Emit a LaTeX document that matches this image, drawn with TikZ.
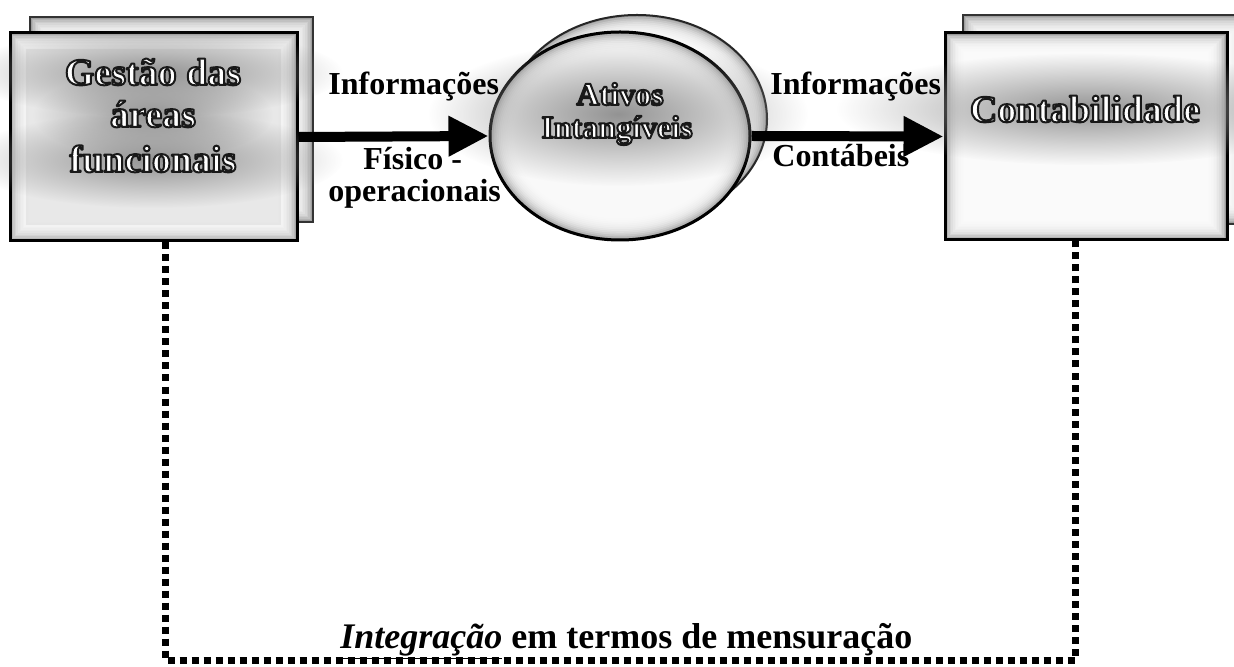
\documentclass[tikz,border=0pt]{standalone}
\usepackage{fontspec}
\setmainfont{Liberation Serif}
\usetikzlibrary{fadings,shapes.geometric,arrows.meta}

% soft radial fade used for the grey halos behind the embossed titles
\tikzfading[name=softglow, inner color=transparent!0, outer color=transparent!100]

% rectangle with darker edges fading to a light centre
% #1,#2 top-left corner, #3,#4 bottom-right corner, #5 base colour, #6 layer opacity
\newcommand\vigrect[6]{%
  \fill[#5] (#1,#2) rectangle (#3,#4);
  \foreach \k in {1,...,12}{%
    \fill[white, opacity=#6] ({#1+1.6*\k},{#2+1.6*\k}) rectangle ({#3-1.6*\k},{#4-1.6*\k});
  }%
}
% ellipse with the same kind of shading: centre #1,#2, radii #3,#4 (pt), base colour #5
\newcommand\vigellipse[5]{%
  \fill[#5] (#1,#2) ellipse [x radius=#3pt, y radius=#4pt];
  \foreach \k in {1,...,12}{%
    \fill[white, opacity=0.24] (#1,#2) ellipse [x radius={(#3-0.9*\k)*1pt}, y radius={(#4-0.9*\k)*1pt}];
  }%
}
% white glyphs stroked with a dark outline (PDF text render mode 2)
\newcommand\rimmed[1]{%
  \special{pdf:literal direct 2 Tr 1 w 1 j 0.1 0.1 0.1 RG}#1\special{pdf:literal direct 0 Tr}%
}

\begin{document}
\begin{tikzpicture}[x=0.5pt, y=-0.5pt,
  flowlabel/.style={font=\fontsize{16}{18}\selectfont\bfseries, inner sep=0pt, anchor=base west},
  boxtitle/.style={font=\fontsize{19}{20}\selectfont\bfseries, text=white, inner sep=0pt, anchor=base},
  ovaltitle/.style={font=\fontsize{16}{18}\selectfont\bfseries, text=white, inner sep=0pt, anchor=base},
  frame/.style={draw=black, line width=1.5pt, inner sep=0pt},
  bigarrow/.style={line width=5pt, -{Triangle[length=20pt, width=19pt]}},
  dotline/.style={line width=3.5pt, dash pattern=on 3.5pt off 2.5pt},
  halo/.style={gray!85, path fading=softglow}]
\useasboundingbox (0,0) rectangle (1234,667);

% ---- left block: Gestão das áreas funcionais ----
\vigrect{30}{17}{313}{222}{gray!75}{0.2}
\draw[black!80, line width=0.8pt] (30,17) rectangle (313,222);
\vigrect{10}{33}{297}{241}{gray!70}{0.22}
\fill[gray!40, opacity=0.35] (26,49) rectangle (281,225);
\node[frame, minimum width=143.5pt, minimum height=104pt] (gestao) at (153.5,137) {};
\fill[halo] (153,73) ellipse [x radius=95pt, y radius=22pt];
\fill[halo] (153,115) ellipse [x radius=60pt, y radius=22pt];
\fill[halo] (153,160) ellipse [x radius=95pt, y radius=24pt];
\node[boxtitle] (gestaoA) at (153,85) {\rimmed{Gestão das}};
\node[boxtitle] (gestaoB) at (153,127) {\rimmed{áreas}};
\node[boxtitle] (gestaoC) at (153,172) {\rimmed{funcionais}};

% ---- right block: Contabilidade ----
\vigrect{963}{15}{1250}{224}{gray!75}{0.2}
\draw[black!80, line width=0.8pt] (963,15) rectangle (1250,224);
\vigrect{945}{33}{1227}{240}{gray!80}{0.26}
\node[frame, minimum width=141pt, minimum height=103.5pt] (contab) at (1086,136.5) {};
\fill[halo] (1086,109) ellipse [x radius=125pt, y radius=28pt];
\node[boxtitle] (contabT) at (1085,122) {\rimmed{Contabilidade}};

% ---- central oval: Ativos Intangíveis ----
\vigellipse{637}{119}{65}{52}{gray!75}
\draw[black!85, line width=1pt] (637,119) ellipse [x radius=65pt, y radius=52pt];
\vigellipse{620}{136}{65}{52}{gray!75}
\node[ellipse, frame, minimum width=130pt, minimum height=104pt] (ativos) at (620,136) {};
\fill[halo] (618,114) ellipse [x radius=95pt, y radius=36pt];
\node[ovaltitle] (ativosA) at (620,105) {\rimmed{Ativos}};
\node[ovaltitle] (ativosB) at (617,138) {\rimmed{Intangíveis}};

% ---- information flows ----
\draw[bigarrow] (gestao.east) -- (ativos.west);
\draw[bigarrow] (ativos.east) -- (contab.west);
\node[flowlabel] (infoA) at (328,95) {Informações};
\node[flowlabel] (fisico) at (363,170) {Físico -};
\node[flowlabel] (operac) at (328,202) {operacionais};
\node[flowlabel] (infoB) at (770,95) {Informações};
\node[flowlabel] (contabeis) at (772,167) {Contábeis};

% ---- measurement integration loop ----
\coordinate (loopL) at (165,660);
\coordinate (loopR) at (1075,660);
\draw[dotline] (gestao.south -| loopL) -- (loopL) -- (loopR) -- (contab.south -| loopR);
\node[font=\fontsize{18}{20}\selectfont\bfseries, inner sep=0pt, anchor=base west] (integr)
  at (340,648) {\underline{\textit{Integração}} em termos de mensuração};
\end{tikzpicture}
\end{document}
